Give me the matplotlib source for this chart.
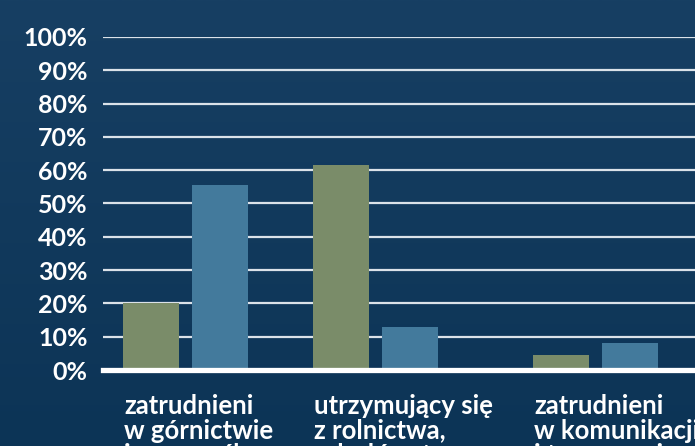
import numpy as np
import matplotlib.pyplot as plt
from matplotlib.colors import LinearSegmentedColormap

categories = [
    'zatrudnieni\nw górnictwie\ni przemyśle',
    'utrzymujący się\nz rolnictwa,\nrybołówstwa',
    'zatrudnieni\nw komunikacji\ni transporcie',
]
series_green = [20, 61.5, 4.5]
series_blue = [55.5, 13, 8]
yticks = np.arange(0, 101, 10)
ytick_labels = [f'{v}%' for v in yticks]

W, H = 695, 446
fig = plt.figure(figsize=(W / 100, H / 100), dpi=100)
plt.rcParams['font.family'] = ['Lato', 'DejaVu Sans']

# tło z gradientem
bg = fig.add_axes([0, 0, 1, 1], zorder=-10)
grad = np.linspace(0, 1, 256).reshape(-1, 1)
cmap = LinearSegmentedColormap.from_list('bg', ['#0c3456', '#173f63'])
bg.imshow(grad, aspect='auto', cmap=cmap, origin='lower', extent=[0, 1, 0, 1])
bg.axis('off')

# osie w pikselach: lewa krawędź 103, zero 370, 100% 37
ax = fig.add_axes([103 / W, (H - 370) / H, (W - 103) / W, 333 / H])
ax.patch.set_alpha(0)
ax.set_xlim(0, W - 103)
ax.set_ylim(0, 100)

group_left = np.array([20, 210, 430])
bar_w = 56
gap = 13
ax.bar(group_left + bar_w / 2, series_green, width=bar_w, color='#7a8c69', zorder=3)
ax.bar(group_left + bar_w + gap + bar_w / 2, series_blue, width=bar_w, color='#437a9c', zorder=3)

for v in yticks[1:]:
    ax.axhline(v, color='#dbe2e9', lw=1.6, zorder=1)
ax.axhline(0, color='white', lw=3.8, zorder=4, clip_on=False)

ax.set_yticks(yticks)
ax.set_yticklabels(ytick_labels)
ax.tick_params(axis='y', length=0, pad=11, labelsize=18, labelcolor='white')
for t in ax.get_yticklabels():
    t.set_fontweight('bold')
ax.set_xticks([])
for s in ax.spines.values():
    s.set_visible(False)

for x, lab in zip(group_left, categories):
    ax.text(x + 1, -24 / 333, lab, transform=ax.get_xaxis_transform(), ha='left', va='top',
            color='white', fontsize=18.5, fontweight='bold', linespacing=1.03, clip_on=False)

fig.savefig('out.png', dpi=100, facecolor='#10385b')
